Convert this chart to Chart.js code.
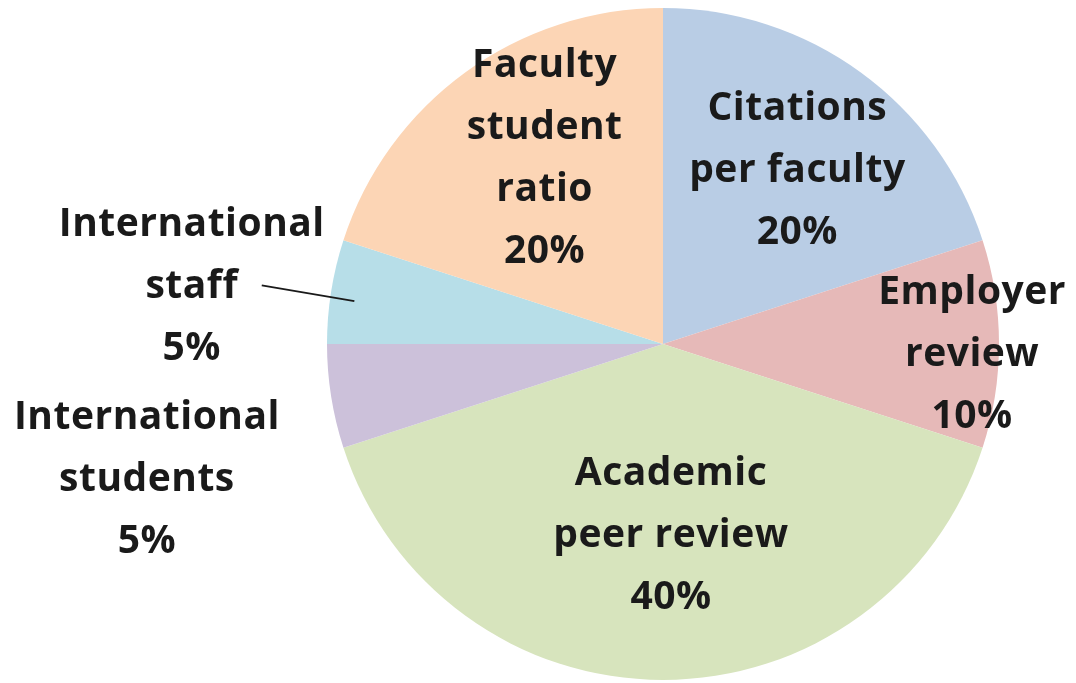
<!DOCTYPE html>
<html>
<head>
<meta charset="utf-8">
<title>QS ranking weights</title>
<script src="https://cdn.jsdelivr.net/npm/chart.js@4.4.0/dist/chart.umd.min.js"></script>
<style>
  html, body { margin: 0; padding: 0; background: #fff; }
  #wrap { width: 1076px; height: 683px; position: relative; }
</style>
</head>
<body>
<div id="wrap"><canvas id="chart_pie"></canvas></div>
<script>
// data
const categories = ['Citations per faculty', 'Employer review', 'Academic peer review',
    'International students', 'International staff', 'Faculty student ratio'];
const weights = [20, 10, 40, 5, 5, 20];
const labelLines = [
    ['Citations', 'per faculty'],
    ['Employer', 'review'],
    ['Academic', 'peer review'],
    ['International', 'students'],
    ['International', 'staff'],
    ['Faculty', 'student', 'ratio']
];
const sliceColors = ['#b9cde5', '#e6b9b8', '#d7e4bd', '#ccc1da', '#b7dee8', '#fcd5b5'];

// where each label sits: radius factor along the slice middle, then a nudge in px
const labelPlace = [
    { f: 0.65, dx: 6, dy: 4 },
    { f: 0.92, dx: 0, dy: 11 },
    { f: 0.57, dx: 8, dy: 0 },
    { f: 1.54, dx: -5, dy: 55 },
    { f: 1.42, dx: 0, dy: 18, leader: 0.93 },
    { f: 0.65, dx: 10, dy: -8 }
];

const pieLabels = {
    id: 'pieLabels',
    afterDatasetsDraw(chart) {
        const ctx = chart.ctx;
        const arcs = chart.getDatasetMeta(0).data;
        const lineH = 62;
        ctx.save();
        ctx.font = 'bold 39px "Open Sans"';
        ctx.letterSpacing = '0.5px';
        ctx.fillStyle = '#1a1a1a';
        ctx.textAlign = 'center';
        ctx.textBaseline = 'middle';
        arcs.forEach((arc, i) => {
            const p = arc.getProps(['x', 'y', 'startAngle', 'endAngle', 'outerRadius'], true);
            const mid = (p.startAngle + p.endAngle) / 2;
            const pl = labelPlace[i];
            const cx = p.x + Math.cos(mid) * p.outerRadius * pl.f + pl.dx;
            const cy = p.y + Math.sin(mid) * p.outerRadius * pl.f + pl.dy;
            const lines = labelLines[i].concat([weights[i] + '%']);
            const top = cy - (lines.length - 1) * lineH / 2;
            lines.forEach((t, k) => ctx.fillText(t, cx, top + k * lineH));
            if (pl.leader) {
                const ex = p.x + Math.cos(mid) * p.outerRadius * pl.leader;
                const ey = p.y + Math.sin(mid) * p.outerRadius * pl.leader + 6;
                ctx.strokeStyle = '#1a1a1a';
                ctx.lineWidth = 2;
                ctx.beginPath();
                ctx.moveTo(cx + 70, cy - 2);
                ctx.lineTo(ex, ey);
                ctx.stroke();
            }
        });
        ctx.restore();
    }
};

new Chart(document.getElementById('chart_pie'), {
    type: 'pie',
    data: {
        labels: categories,
        datasets: [{
            data: weights,
            backgroundColor: sliceColors,
            borderWidth: 0
        }]
    },
    options: {
        responsive: true,
        maintainAspectRatio: false,
        animation: false,
        layout: { padding: { left: 327, right: 77, top: 8, bottom: 3 } },
        plugins: {
            legend: { display: false },
            tooltip: { enabled: false }
        }
    },
    plugins: [pieLabels]
});
</script>
</body>
</html>
